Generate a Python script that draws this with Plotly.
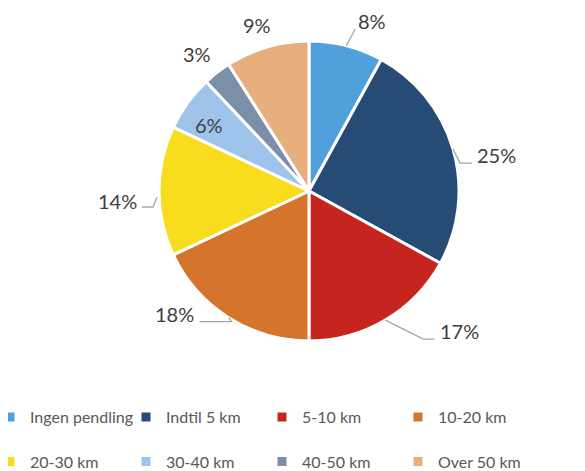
import math
import plotly.graph_objects as go

labels = ["Ingen pendling", "Indtil 5 km", "5-10 km", "10-20 km",
          "20-30 km", "30-40 km", "40-50 km", "Over 50 km"]
values = [8, 25, 17, 18, 14, 6, 3, 9]
colors = ["#4FA0DB", "#264B74", "#C5241F", "#D5742D",
          "#F8DD1E", "#9FC4EB", "#7B8FA9", "#E7AF7E"]

OFF = 8                      # page body margin in the viewer
W, H = 585 - OFF, 471 - OFF
MB = 80                      # bottom margin holding the legend
PH = H - MB                  # plot-area height
CX, CY, R = 309, 191, 150    # pie centre / radius in screen px

# style: label offsets (px) relative to the slice's edge point, leader line shapes
label_offsets = [(26, -25), (43, 6), (74, 11), (-54, -4), (-42, 10), (21, 22), (-20, -18), (-10, -22)]
leader_paths = [[(0, 0), (9, -17)], [(0, 0), (7, 14), (19, 14)], [(0, 0), (38, 19), (49, 19)],
                [(0, 0), (3, 4), (-29, 4)], [(-2, 6), (-6, 16), (-17, 16)], None, None, None]


def px(x, y):
    return (x - OFF) / W, (PH - (y - OFF)) / PH


fig = go.Figure()
fig.add_trace(go.Pie(
    labels=[l + "<br>&nbsp;" for l in labels],
    values=values,
    sort=False,
    direction="clockwise",
    rotation=0,
    marker=dict(colors=colors, line=dict(color="white", width=3)),
    textinfo="none",
    hovertemplate="%{label}: %{value}%<extra></extra>",
    domain=dict(x=[(CX - OFF - R) / W, (CX - OFF + R) / W],
                y=[(PH - (CY - OFF) - R) / PH, (PH - (CY - OFF) + R) / PH]),
))

total = sum(values)
cum = 0
annotations = []
shapes = []
for i, v in enumerate(values):
    mid = (cum + v / 2) / total * 2 * math.pi
    cum += v
    ex = CX + R * math.sin(mid)
    ey = CY - R * math.cos(mid)
    dx, dy = label_offsets[i]
    lx, ly = px(ex + dx, ey + dy)
    annotations.append(dict(x=lx, y=ly, xref="paper", yref="paper", text=f"{v}%",
                            showarrow=False, xanchor="center", yanchor="middle",
                            font=dict(family="Lato", size=20, color="#404040")))
    if leader_paths[i]:
        pts = [px(ex + a, ey + b) for a, b in leader_paths[i]]
        path = "M " + " L ".join(f"{p[0]},{p[1]}" for p in pts)
        shapes.append(dict(type="path", path=path, xref="paper", yref="paper",
                           line=dict(color="#A6A6A6", width=1.3)))

fig.update_layout(
    width=W, height=H,
    margin=dict(l=0, r=0, t=0, b=MB, autoexpand=False),
    paper_bgcolor="white",
    plot_bgcolor="white",
    annotations=annotations,
    shapes=shapes,
    showlegend=True,
    legend=dict(orientation="h", entrywidth=91, entrywidthmode="pixels",
                x=-18 / W, y=-(392 - PH) / PH, xanchor="left", yanchor="top",
                valign="top", traceorder="normal",
                font=dict(family="Lato", size=16, color="#595959"),
                itemclick=False),
)

fig.write_html("out.html")
